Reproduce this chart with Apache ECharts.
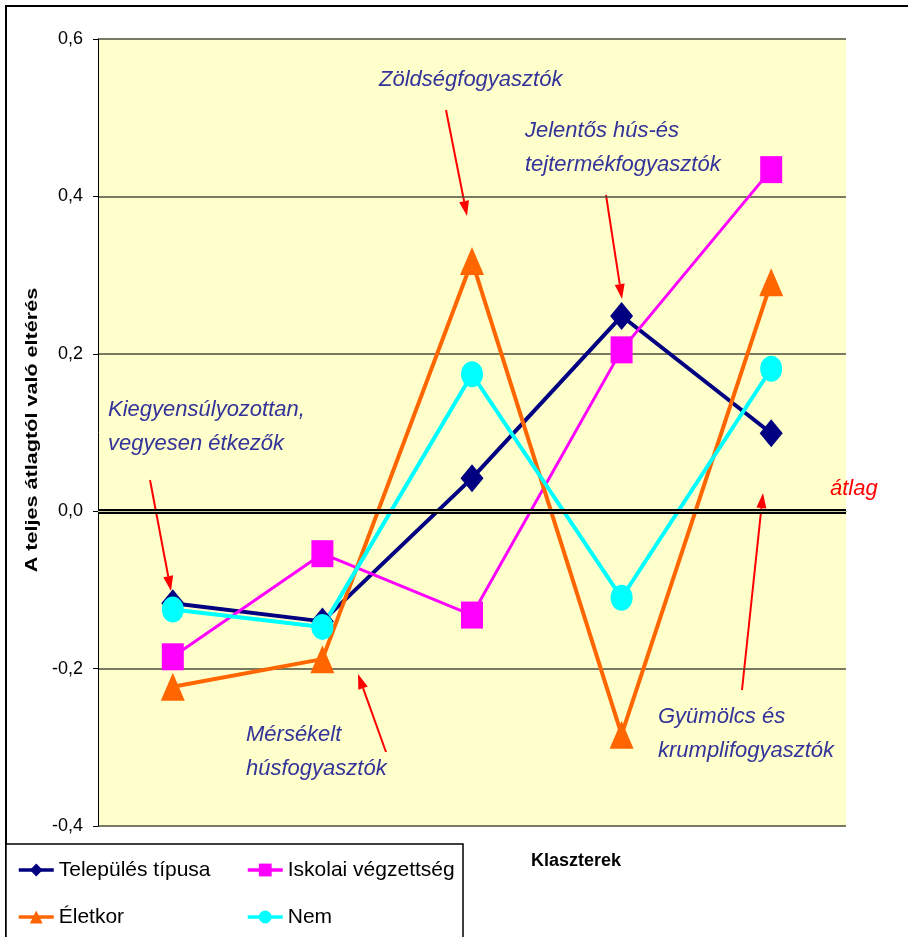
<!DOCTYPE html>
<html>
<head>
<meta charset="utf-8">
<script src="https://cdn.jsdelivr.net/npm/echarts@6/dist/echarts.min.js"></script>
<style>
  html, body { margin: 0; padding: 0; background: #ffffff; }
  #chart { width: 908px; height: 937px; }
</style>
</head>
<body>
<div id="chart"></div>
<script>
// Clusters (x categories; their names are written as callouts in the plot)
const clusters = [
  'Kiegyensúlyozottan, vegyesen étkezők',
  'Mérsékelt húsfogyasztók',
  'Zöldségfogyasztók',
  'Jelentős hús-és tejtermékfogyasztók',
  'Gyümölcs és krumplifogyasztók'
];

// Deviation from the overall mean, per background variable
const telepulesTipusa    = [-0.117, -0.140, 0.042, 0.248, 0.099];
const iskolaiVegzettseg  = [-0.185, -0.054, -0.132, 0.205, 0.434];
const eletkor            = [-0.223, -0.188, 0.318, -0.284, 0.291];
const nem                = [-0.125, -0.147, 0.174, -0.110, 0.181];

// Value-axis ticks
const yTicks = [-0.4, -0.2, 0.0, 0.2, 0.4, 0.6];
const meanLevel = 0;

const FONT = '"Liberation Sans", Arial, sans-serif';
const NOTE_COLOR = '#333399';

const chart = echarts.init(document.getElementById('chart'), null, { renderer: 'canvas' });

// Red arrow from (x1,y1) to the tip at (x2,y2)
function arrow(x1, y1, x2, y2) {
  const ang = Math.atan2(y2 - y1, x2 - x1);
  const len = 15, half = 5;
  const bx = x2 - len * Math.cos(ang), by = y2 - len * Math.sin(ang);
  const px = -Math.sin(ang) * half, py = Math.cos(ang) * half;
  return {
    type: 'group', z: 100,
    children: [
      { type: 'line', shape: { x1: x1, y1: y1, x2: bx, y2: by },
        style: { stroke: '#ff0000', lineWidth: 2 } },
      { type: 'polygon', shape: { points: [[x2, y2], [bx + px, by + py], [bx - px, by - py]] },
        style: { fill: '#ff0000' } }
    ]
  };
}

function note(x, y, text, color) {
  return {
    type: 'text', left: x, top: y, z: 100,
    style: {
      text: text, fill: color || NOTE_COLOR,
      font: 'italic 22px ' + FONT, lineHeight: 34
    }
  };
}

const lineSeries = (name, data, color, symbol, size, width) => ({
  name: name, type: 'line', data: data,
  symbol: symbol, symbolSize: size, z: 3,
  lineStyle: { color: color, width: width },
  itemStyle: { color: color, borderWidth: 0 },
  emphasis: { disabled: true },
  animation: false
});

const legendText = { fontFamily: FONT, fontSize: 21, color: '#000', lineHeight: 24 };

const option = {
  animation: false,
  backgroundColor: '#ffffff',
  grid: {
    left: 98, right: 62, top: 39, bottom: 111,
    show: true, backgroundColor: '#ffffcc', borderWidth: 0
  },
  xAxis: {
    type: 'category', data: clusters, boundaryGap: true,
    axisLine: { lineStyle: { color: '#000000', width: 1 } },
    axisTick: { show: false },
    axisLabel: { show: false },
    splitLine: { show: false }
  },
  yAxis: {
    type: 'value', min: yTicks[0], max: yTicks[yTicks.length - 1], interval: 0.2,
    axisLine: { show: true, lineStyle: { color: '#000000', width: 1 } },
    axisTick: { show: true, length: 5, lineStyle: { color: '#000000' } },
    axisLabel: {
      margin: 15, fontFamily: FONT, fontSize: 18, color: '#000',
      formatter: v => v.toFixed(1).replace('.', ',')
    },
    splitLine: { show: true, lineStyle: { color: '#4d4d3d', width: 1.5 } }
  },
  legend: [
    {
      orient: 'vertical', left: 17, top: 858, itemGap: 23, padding: 0,
      itemWidth: 35, itemHeight: 16,
      lineStyle: { width: 3.5 },
      data: ['Település típusa', 'Életkor'],
      textStyle: legendText, selectedMode: false
    },
    {
      orient: 'vertical', left: 246, top: 858, itemGap: 23, padding: 0,
      itemWidth: 35, itemHeight: 16,
      lineStyle: { width: 3.5 },
      data: ['Iskolai végzettség', 'Nem'],
      textStyle: legendText, selectedMode: false
    }
  ],
  series: [
    {
      name: 'átlag', type: 'line', data: [], z: 2, silent: true,
      markLine: {
        silent: true, symbol: 'none', animation: false,
        label: { show: false },
        data: [
          { yAxis: meanLevel, lineStyle: { color: '#000000', width: 5, type: 'solid' } },
          { yAxis: meanLevel - 0.0012, lineStyle: { color: '#cfcfa8', width: 1, type: 'solid' } }
        ]
      }
    },
    lineSeries('Település típusa', telepulesTipusa, '#000080', 'diamond', [23, 28], 4),
    lineSeries('Iskolai végzettség', iskolaiVegzettseg, '#ff00ff', 'rect', [22, 27], 3),
    lineSeries('Életkor', eletkor, '#ff6600', 'triangle', [24, 28], 4),
    lineSeries('Nem', nem, '#00ffff', 'circle', [22, 26], 4)
  ],
  graphic: [
    // outer frame
    { type: 'rect', z: 0, shape: { x: 6, y: 6, width: 930, height: 960 },
      style: { fill: 'none', stroke: '#000000', lineWidth: 2 } },
    // legend frame
    { type: 'rect', z: 1, shape: { x: 6, y: 844, width: 457, height: 120 },
      style: { fill: '#ffffff', stroke: '#000000', lineWidth: 1.5 } },
    // value-axis title
    { type: 'text', x: 33, y: 430, rotation: Math.PI / 2, scaleX: 1.35, z: 100,
      style: { text: 'A teljes átlagtól való eltérés', fill: '#000',
               font: 'bold 16px ' + FONT, align: 'center', verticalAlign: 'middle' } },
    // category-axis title
    { type: 'text', left: 531, top: 852, z: 100,
      style: { text: 'Klaszterek', fill: '#000', font: 'bold 18px ' + FONT } },
    note(379, 63, 'Zöldségfogyasztók'),
    note(525, 114, 'Jelentős hús-és\ntejtermékfogyasztók'),
    note(108, 393, 'Kiegyensúlyozottan,\nvegyesen étkezők'),
    note(246, 718, 'Mérsékelt\nhúsfogyasztók'),
    note(658, 700, 'Gyümölcs és\nkrumplifogyasztók'),
    note(830, 472, 'átlag', '#ff0000'),
    arrow(446, 110, 467, 216),
    arrow(606, 195, 622, 299),
    arrow(150, 480, 171, 591),
    arrow(386, 752, 358, 674),
    arrow(742, 690, 763, 493)
  ]
};

chart.setOption(option);
</script>
</body>
</html>
